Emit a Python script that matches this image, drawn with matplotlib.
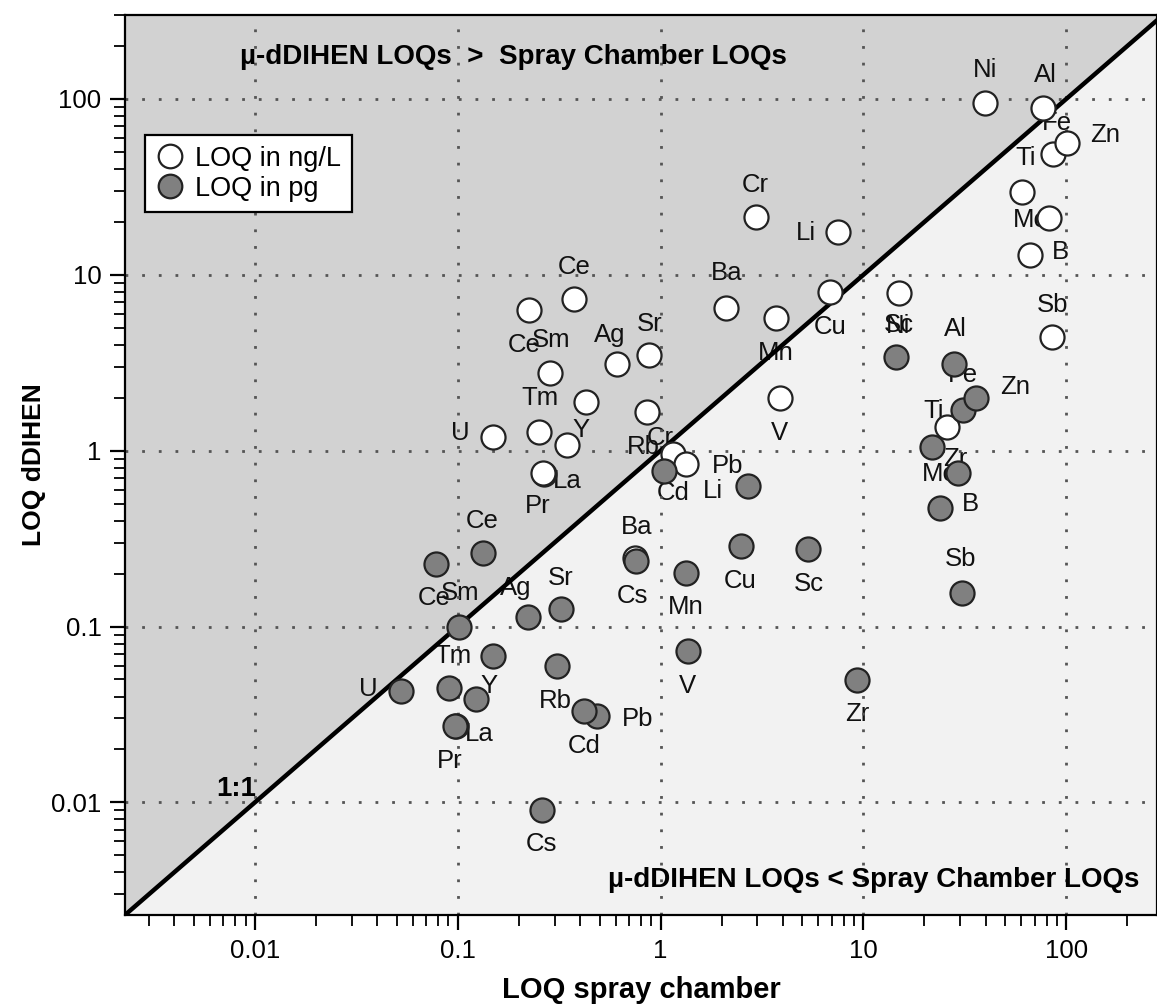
"""LOQ comparison: micro-dDIHEN vs spray chamber, log-log scatter with 1:1 line."""

import matplotlib
matplotlib.use("Agg")
import matplotlib.pyplot as plt
from matplotlib.lines import Line2D
from matplotlib.ticker import LogLocator, NullFormatter, FixedFormatter, FixedLocator

plt.rcParams["font.family"] = ["Liberation Sans", "DejaVu Sans"]

# --------------------------------------------------------------------------- #
# Data.
# --------------------------------------------------------------------------- #
ngl_elements = ["Ni", "Al", "Fe", "Zn", "Ti", "Mo", "B", "Sb", "Cr", "Li",
                "Ba", "Cu", "Mn", "V", "Sc", "Zr", "Ce", "Ce", "Sm", "Ag",
                "Sr", "Tm", "", "U", "Y", "La", "Pr", "Rb", "Cd", "Pb", "Cs"]
ngl_spray = [39.9, 77.0, 86.3, 101.0, 60.7, 82.5, 66.5, 85.3, 2.94, 7.53,
             2.11, 6.88, 3.69, 3.86, 14.9, 25.9, 0.373, 0.224, 0.284, 0.607,
             0.873, 0.251, 0.427, 0.150, 0.344, 0.265, 0.262, 0.853, 1.146, 1.328, 0.745]
ngl_dihen = [94.9, 88.9, 48.6, 56.1, 29.5, 21.0, 12.9, 4.4, 21.3, 17.5,
             6.44, 7.95, 5.65, 2.0, 7.85, 1.37, 7.25, 6.28, 2.75, 3.13,
             3.52, 1.27, 1.90, 1.19, 1.07, 0.739, 0.745, 1.65, 0.96, 0.843, 0.246]

pg_elements = ["Ni", "Al", "Fe", "Zn", "Ti", "Mo", "B", "Sb", "Zr", "Sc",
               "Cu", "Mn", "V", "Li", "Cr", "Ba", "Cs", "Pb", "Cd", "Rb",
               "Sr", "Ag", "Sm", "Ce", "Ce", "", "Tm", "Y", "La", "Pr", "U"]
pg_spray = [14.4, 28.1, 31.1, 36.0, 21.9, 29.4, 23.9, 30.7, 9.34, 5.36,
            2.48, 1.328, 1.36, 2.71, 1.035, 0.753, 0.259, 0.484, 0.418, 0.307,
            0.322, 0.221, 0.101, 0.133, 0.078, 0.149, 0.0903, 0.123, 0.0978, 0.0968, 0.0524]
pg_dihen = [3.43, 3.13, 1.71, 1.98, 1.05, 0.75, 0.473, 0.155, 0.0496, 0.277,
            0.288, 0.202, 0.0725, 0.632, 0.769, 0.236, 0.0090, 0.0309, 0.033, 0.0596,
            0.126, 0.113, 0.0993, 0.262, 0.227, 0.0679, 0.0446, 0.0386, 0.0271, 0.0272, 0.0429]

# label offsets in pixels (layout only)
ngl_offsets = [(0, 33), (2, 33), (4, 31), (38, 8), (3, 34), (-19, -2), (30, 3), (0, 32),
               (0, 32), (-33, -1), (0, 35), (0, -35), (0, -35), (0, -35), (0, -32),
               (8, -32), (0, 32), (-5, -35), (1, 33), (-7, 29), (1, 31), (1, 34), (0, 0),
               (-33, 4), (14, 15), (24, -7), (-5, -33), (-3, -35), (1, -39), (42, -2),
               (-2, -38)]
pg_offsets = [(3, 31), (1, 35), (0, 35), (39, 11), (1, 36), (-19, -1), (30, 4), (-2, 34),
              (0, -34), (0, -35), (0, -35), (0, -34), (0, -35), (-35, -5), (-3, 33),
              (1, 34), (0, -34), (41, -3), (0, -35), (-1, -35), (0, 31), (-12, 29),
              (2, 34), (-1, 32), (-2, -34), (0, 0), (4, 32), (13, 13), (23, -8),
              (-5, -35), (-32, 2)]

LIMS = (0.00229, 280.0)
YTOP = 300.0
UPPER_FILL = "#d2d2d2"
LOWER_FILL = "#f2f2f2"
PG_FACE = "#808080"

# --------------------------------------------------------------------------- #
# Figure.
# --------------------------------------------------------------------------- #
fig = plt.figure(figsize=(11.57, 10.08), dpi=100)
ax = fig.add_axes([125 / 1157, 93 / 1008, 1 - 125 / 1157, 900 / 1008])
ax.set_xscale("log")
ax.set_yscale("log")
ax.set_xlim(*LIMS)
ax.set_ylim(LIMS[0], YTOP)

# shaded halves and 1:1 line
xs = [LIMS[0], LIMS[1]]
ax.fill_between(xs, xs, [YTOP, YTOP], color=UPPER_FILL, zorder=0, lw=0)
ax.fill_between(xs, [LIMS[0], LIMS[0]], xs, color=LOWER_FILL, zorder=0, lw=0)
ax.plot([LIMS[0], YTOP * 1.2], [LIMS[0], YTOP * 1.2], color="black", lw=3.2,
        zorder=3, solid_capstyle="butt")

# grid
for v in [0.01, 0.1, 1, 10, 100]:
    ax.axvline(v, color="#555555", lw=2, ls=(0, (1, 5)), zorder=2)
    ax.axhline(v, color="#555555", lw=2, ls=(0, (1, 5)), zorder=2)

# points
ax.scatter(ngl_spray, ngl_dihen, s=300, facecolor="white", edgecolor="#222222",
           linewidths=1.6, zorder=4, label="LOQ in ng/L")
ax.scatter(pg_spray, pg_dihen, s=300, facecolor=PG_FACE, edgecolor="#222222",
           linewidths=1.6, zorder=4, label="LOQ in pg")


def label_points(names, xv, yv, offsets):
    for name, x, y, off in zip(names, xv, yv, offsets):
        if not name:
            continue
        ax.annotate(name, (x, y), xytext=off, textcoords="offset pixels",
                    ha="center", va="center", fontsize=18.5, color="#111111",
                    zorder=1)


label_points(ngl_elements, ngl_spray, ngl_dihen, ngl_offsets)
label_points(pg_elements, pg_spray, pg_dihen, pg_offsets)

# region annotations
ax.text(0.376, 0.953, "\u00b5-dDIHEN LOQs  >  Spray Chamber LOQs", transform=ax.transAxes,
        ha="center", va="center", fontsize=20, fontweight="bold", zorder=5)
ax.text(0.983, 0.039, "\u00b5-dDIHEN LOQs < Spray Chamber LOQs", transform=ax.transAxes,
        ha="right", va="center", fontsize=20, fontweight="bold", zorder=5)
ax.text(0.0081, 0.0119, "1:1", ha="center", va="center", fontsize=20,
        fontweight="bold", zorder=5)

# ticks
major = [0.01, 0.1, 1, 10, 100]
major_labels = ["0.01", "0.1", "1", "10", "100"]
for axis in (ax.xaxis, ax.yaxis):
    axis.set_major_locator(FixedLocator(major))
    axis.set_major_formatter(FixedFormatter(major_labels))
    axis.set_minor_locator(LogLocator(base=10, subs=range(2, 10), numticks=20))
    axis.set_minor_formatter(NullFormatter())
ax.tick_params(which="major", direction="out", length=11, width=1.6,
               labelsize=18.5, pad=6, top=False, right=False)
ax.tick_params(which="minor", direction="out", length=8, width=1.3,
               top=False, right=False)
for sp in ax.spines.values():
    sp.set_linewidth(1.6)
    sp.set_zorder(6)

ax.set_xlabel("LOQ spray chamber", fontsize=21, fontweight="bold", labelpad=10)
ax.set_ylabel("LOQ dDIHEN", fontsize=19, fontweight="bold", labelpad=4)

handles = [
    Line2D([], [], marker="o", ls="", markersize=17, markerfacecolor="white",
           markeredgecolor="#222222", markeredgewidth=1.6),
    Line2D([], [], marker="o", ls="", markersize=17, markerfacecolor=PG_FACE,
           markeredgecolor="#222222", markeredgewidth=1.6),
]
leg = ax.legend(handles, ["LOQ in ng/L", "LOQ in pg"], loc="upper left",
                bbox_to_anchor=(0.019, 0.867), borderaxespad=0, fontsize=19.5,
                fancybox=False, framealpha=1, edgecolor="black",
                handletextpad=0.35, handlelength=1.1, borderpad=0.4,
                labelspacing=0.15)
leg.get_frame().set_linewidth(1.6)
leg.set_zorder(7)

fig.savefig("out.png", dpi=100)
